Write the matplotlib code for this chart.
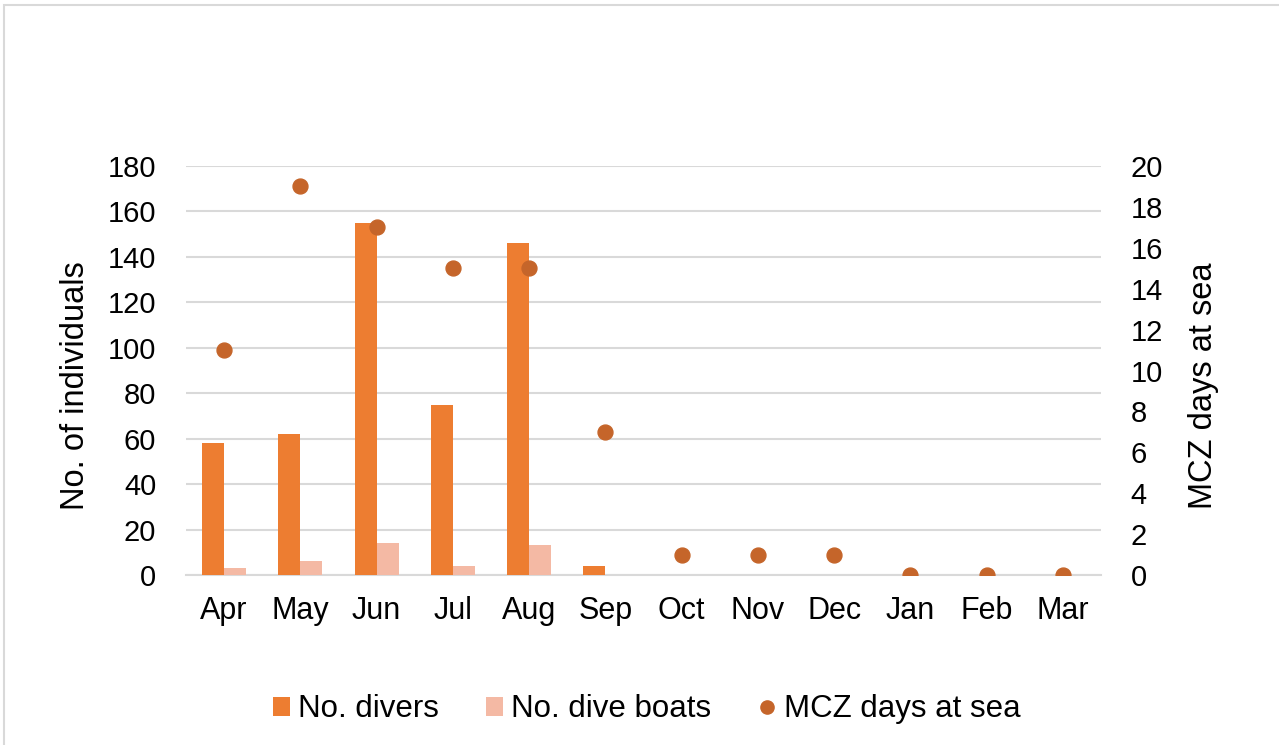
import numpy as np
import matplotlib
matplotlib.use("Agg")
import matplotlib.pyplot as plt
from matplotlib.patches import Rectangle
from matplotlib.lines import Line2D
from matplotlib.patches import Patch

plt.rcParams["font.family"] = ["Liberation Sans", "DejaVu Sans"]

meses = ["Apr", "May", "Jun", "Jul", "Aug", "Sep", "Oct", "Nov", "Dec", "Jan", "Feb", "Mar"]
buceadores = [58, 62, 155, 75, 146, 4, 0, 0, 0, 0, 0, 0]
barcos = [3, 6, 14, 4, 13, 0, 0, 0, 0, 0, 0, 0]
dias_mar = [11, 19, 17, 15, 15, 7, 1, 1, 1, 0, 0, 0]

color_buceo = "#ED7D31"
color_barcos = "#F4B9A4"
color_dias = "#C5652A"
gris = "#D9D9D9"

fig = plt.figure(figsize=(12.79, 7.45), dpi=100)
fig.patches.append(Rectangle((4 / 1279, -0.05), 1.2, 1 - 5 / 745 + 0.05,
                             transform=fig.transFigure, fill=False,
                             edgecolor=gris, linewidth=1.5))

ax = fig.add_axes([186 / 1279, 1 - 575 / 745, (1101 - 186) / 1279, (575 - 166) / 745])
x = np.arange(len(meses))
ancho = 0.29

ax.bar(x - ancho / 2, buceadores, ancho, color=color_buceo, zorder=3)
ax.bar(x + ancho / 2, barcos, ancho, color=color_barcos, zorder=3)

ax.set_xlim(-0.5, len(meses) - 0.5)
ax.set_ylim(0, 180)
ax.set_yticks(np.arange(0, 181, 20))
ax.set_xticks(x)
ax.set_xticklabels(meses)
ax.grid(axis="y", color=gris, linewidth=1.5, zorder=0)
for lado in ["top", "right", "left"]:
    ax.spines[lado].set_visible(False)
ax.spines["bottom"].set_color(gris)
ax.spines["bottom"].set_linewidth(1.5)
ax.tick_params(axis="both", length=0)
ax.tick_params(axis="x", pad=15, labelsize=22)
ax.tick_params(axis="y", pad=21.5, labelsize=21)
ax.set_ylabel("No. of individuals", fontsize=23.5, labelpad=12)
ax.yaxis.label.set_y(0.462)

ax2 = ax.twinx()
ax2.scatter(x, dias_mar, s=115, color=color_dias, zorder=4)
ax2.set_ylim(0, 20)
ax2.set_yticks(np.arange(0, 21, 2))
for lado in ["top", "right", "left", "bottom"]:
    ax2.spines[lado].set_visible(False)
ax2.tick_params(axis="y", length=0, labelsize=21, pad=21.5)
ax2.set_ylabel("MCZ days at sea", fontsize=23.5, labelpad=17.5)
ax2.yaxis.label.set_y(0.462)

handles = [
    Patch(facecolor=color_buceo, label="No. divers"),
    Patch(facecolor=color_barcos, label="No. dive boats"),
    Line2D([], [], marker="o", linestyle="none", markersize=9.5,
           color=color_dias, label="MCZ days at sea"),
]
fig.legend(handles=handles, loc="center", bbox_to_anchor=(0.5055, 0.048), ncol=3,
           frameon=False, fontsize=22.5, handlelength=0.55, handleheight=0.55,
           handletextpad=0.26, columnspacing=1.5)

fig.savefig("out.png", dpi=100)
